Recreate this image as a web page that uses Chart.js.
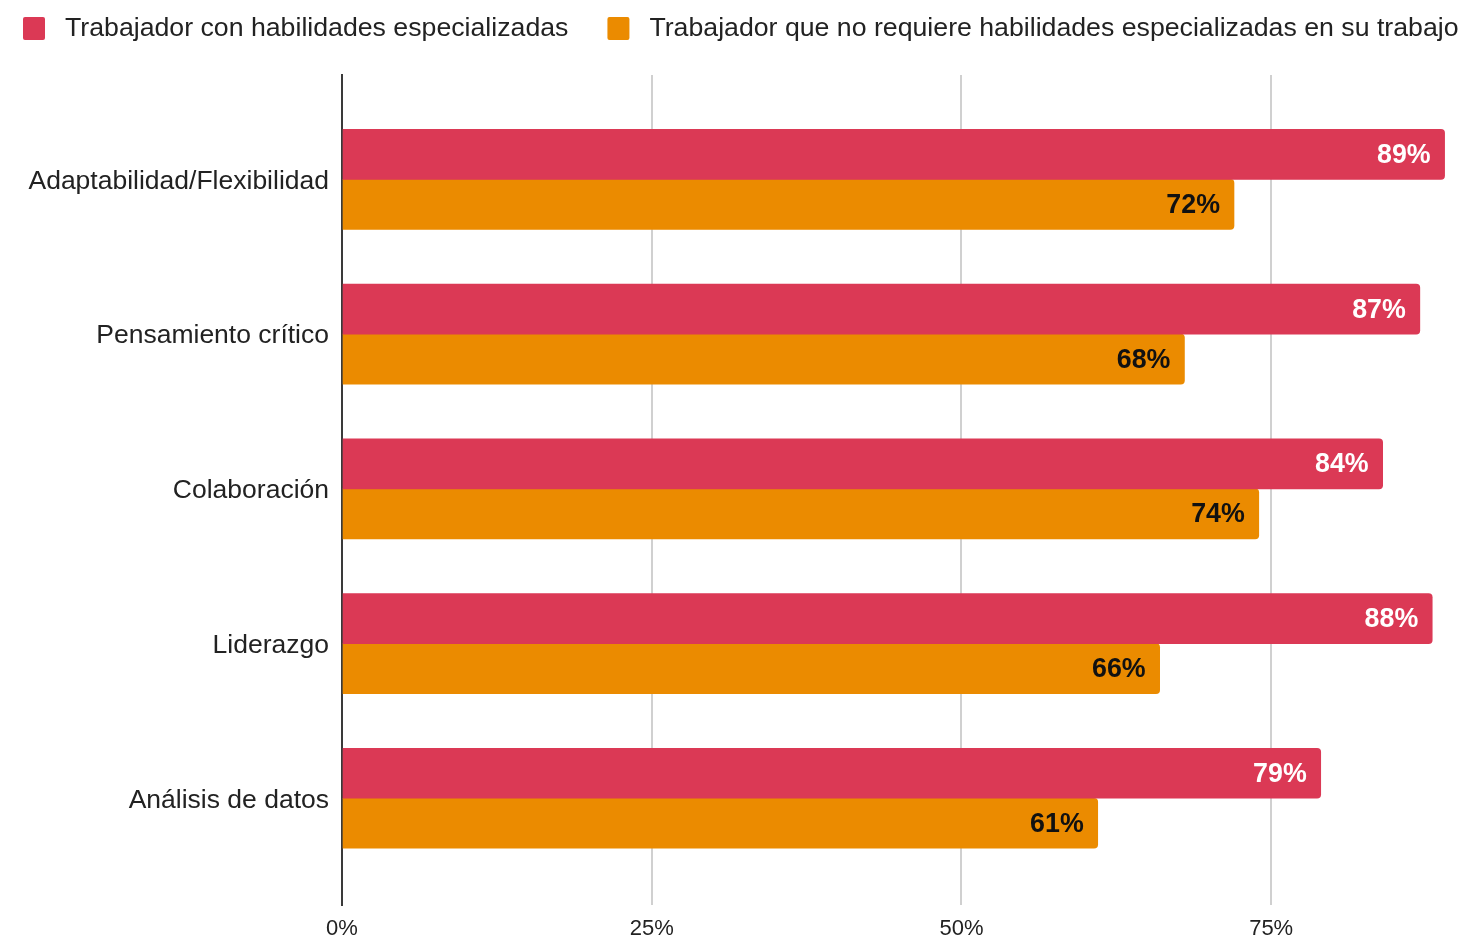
<!DOCTYPE html>
<html lang="es">
<head>
<meta charset="utf-8">
<title>Habilidades por tipo de trabajador</title>
<script src="https://cdn.jsdelivr.net/npm/chart.js@4.4.1/dist/chart.umd.min.js"></script>
<style>
  html, body { margin: 0; padding: 0; background: #ffffff; }
  #wrap { width: 1470px; height: 935px; position: relative; }
</style>
</head>
<body>
<div id="wrap"><canvas id="chart"></canvas></div>
<script>
// Skills (one row per category)
const categories = [
  'Adaptabilidad/Flexibilidad',
  'Pensamiento crítico',
  'Colaboración',
  'Liderazgo',
  'Análisis de datos'
];

// Series names
const seriesNames = [
  'Trabajador con habilidades especializadas',
  'Trabajador que no requiere habilidades especializadas en su trabajo'
];

// Percentages per skill
const especializadas = [89, 87, 84, 88, 79];
const noEspecializadas = [72, 68, 74, 66, 61];

// Value axis tick step (%)
const xTickStep = 25;

const FONT = '"Liberation Sans", Arial, Helvetica, sans-serif';
const COLORS = ['#DB3955', '#EB8B00'];
const LABEL_COLORS = ['#ffffff', '#111111'];

// Each category sits at its integer index on the vertical axis
const toPoints = arr => arr.map((v, i) => ({ x: v, y: i }));

// Value labels drawn inside the end of each bar
const barValueLabels = {
  id: 'barValueLabels',
  afterDatasetsDraw(chart) {
    const ctx = chart.ctx;
    ctx.save();
    ctx.font = 'bold 26.8px ' + FONT;
    ctx.textAlign = 'right';
    ctx.textBaseline = 'alphabetic';
    chart.data.datasets.forEach((ds, di) => {
      const meta = chart.getDatasetMeta(di);
      ctx.fillStyle = LABEL_COLORS[di];
      meta.data.forEach((bar, i) => {
        const v = ds.data[i].x;
        ctx.fillText(v + '%', bar.x - 14, bar.y + 8.5);
      });
    });
    ctx.restore();
  }
};

// Legend row across the top
const topLegend = {
  id: 'topLegend',
  afterDraw(chart) {
    const ctx = chart.ctx;
    ctx.save();
    ctx.font = '26.7px ' + FONT;
    ctx.textAlign = 'left';
    ctx.textBaseline = 'alphabetic';
    let x = 23;
    chart.data.datasets.forEach(ds => {
      ctx.fillStyle = ds.backgroundColor;
      ctx.beginPath();
      ctx.roundRect(x, 17, 22, 23, 2);
      ctx.fill();
      ctx.fillStyle = '#222222';
      ctx.fillText(ds.label, x + 42, 36);
      x += 42 + ctx.measureText(ds.label).width + 39;
    });
    ctx.restore();
  }
};

new Chart(document.getElementById('chart'), {
  type: 'bar',
  data: {
    datasets: [
      {
        label: seriesNames[0],
        data: toPoints(especializadas),
        backgroundColor: COLORS[0],
        borderRadius: 4,
        borderSkipped: 'start',
        barThickness: 50
      },
      {
        label: seriesNames[1],
        data: toPoints(noEspecializadas),
        backgroundColor: COLORS[1],
        borderRadius: 4,
        borderSkipped: 'start',
        barThickness: 50
      }
    ]
  },
  options: {
    indexAxis: 'y',
    responsive: true,
    maintainAspectRatio: false,
    animation: false,
    layout: { padding: { top: 75, right: 13, bottom: 0, left: 0 } },
    plugins: {
      legend: { display: false },
      tooltip: { enabled: false }
    },
    scales: {
      x: {
        type: 'linear',
        min: 0,
        max: 90,
        grid: { color: '#d0d0d0', lineWidth: 2, drawTicks: false },
        border: { display: false },
        ticks: {
          stepSize: xTickStep,
          includeBounds: false,
          padding: 11,
          color: '#222222',
          font: { family: FONT, size: 22 },
          callback: v => v + '%'
        },
        afterFit: s => { s.height = 30; }
      },
      y: {
        type: 'linear',
        reverse: true,
        offset: false,
        min: -0.675,
        max: 4.69,
        z: 1,
        grid: { display: false, drawTicks: false },
        border: { display: true, color: '#3a3a3a', width: 2 },
        ticks: {
          stepSize: 1,
          includeBounds: false,
          autoSkip: false,
          padding: 13,
          labelOffset: 2,
          color: '#222222',
          font: { family: FONT, size: 26.5 },
          callback: v => (Number.isInteger(v) && categories[v] !== undefined) ? categories[v] : ''
        },
        afterFit: s => { s.width = 342; }
      }
    }
  },
  plugins: [barValueLabels, topLegend]
});
</script>
</body>
</html>
